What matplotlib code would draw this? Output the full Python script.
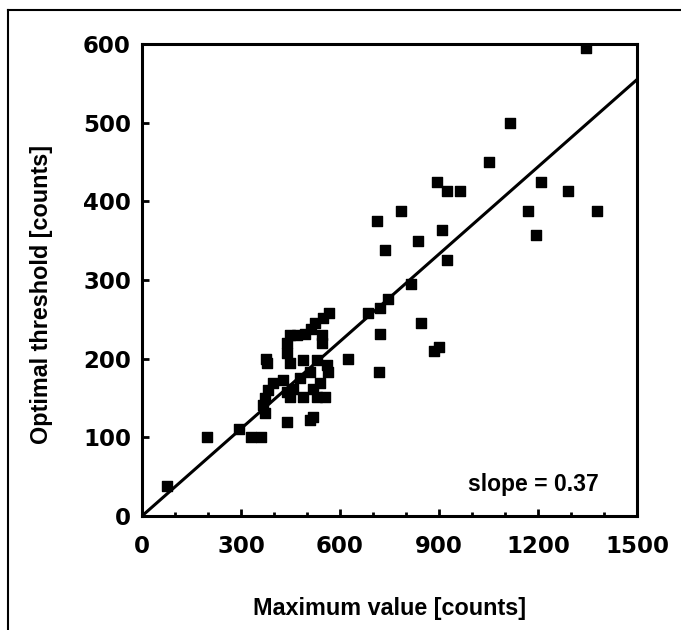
import matplotlib.pyplot as plt
import numpy as np
from matplotlib import font_manager
from matplotlib.lines import Line2D

# pick the regular-width Liberation Sans Bold file (avoid the Narrow cut)
bold_file = None
for path in font_manager.findSystemFonts():
    if path.endswith("LiberationSans-Bold.ttf"):
        bold_file = path
        break
if bold_file:
    label_font = font_manager.FontProperties(fname=bold_file, size=16.8)
    slope_font = font_manager.FontProperties(fname=bold_file, size=16.5)
else:
    label_font = font_manager.FontProperties(family="DejaVu Sans", weight="bold", size=15)
    slope_font = font_manager.FontProperties(family="DejaVu Sans", weight="bold", size=14.5)

# maximum value vs optimal threshold
max_value = [
    75, 197, 295, 330, 360, 373, 367, 373, 376, 380, 382, 397,
    440, 518, 509,
    625, 568, 548, 524, 512, 494, 470, 448, 439, 545, 545, 439, 448,
    488, 530, 561, 564, 509, 479, 428, 458, 518, 539, 439, 488, 530,
    555, 448,
    685, 720, 718, 722, 745, 815, 845, 885, 900, 925, 735, 712, 785,
    835, 910, 895, 925, 965, 1050, 1115, 1210, 1290, 1170, 1380, 1195,
    1345,
]
threshold = [
    38, 100, 110, 100, 100, 131, 141, 150, 200, 195, 160, 169,
    120, 126, 122,
    200, 258, 252, 245, 238, 232, 230, 230, 220, 230, 220, 207, 194,
    198, 198, 192, 183, 183, 175, 173, 162, 162, 169, 158, 151, 151,
    151, 151,
    258, 232, 183, 265, 276, 295, 245, 210, 215, 325, 338, 375, 388,
    350, 363, 425, 413, 413, 450, 500, 425, 413, 388, 388, 357,
    595,
]
slope = 0.37

fig = plt.figure(figsize=(6.81, 6.30), dpi=100)
ax = fig.add_axes([0.2085, 0.181, 0.727, 0.749])

ax.scatter(max_value, threshold, marker="s", s=52, color="black", zorder=3)
fit_x = np.array([0, 1500])
ax.plot(fit_x, slope * fit_x, color="black", lw=2.2, zorder=2)

ax.set_xlim(0, 1500)
ax.set_ylim(0, 600)
ax.set_xticks(range(0, 1501, 300))
ax.set_xticks(range(0, 1501, 100), minor=True)
ax.set_yticks(range(0, 601, 100))
ax.tick_params(axis="both", which="major", direction="in", length=5, width=2,
               labelsize=16.5)
ax.tick_params(axis="x", which="major", pad=14)
ax.tick_params(axis="y", which="major", pad=8)
ax.tick_params(axis="x", which="minor", direction="in", length=3, width=2)
for lab in ax.get_xticklabels() + ax.get_yticklabels():
    lab.set_fontweight("bold")
    lab.set_family("DejaVu Sans")
for sp in ax.spines.values():
    sp.set_linewidth(2.2)

ax.set_xlabel("Maximum value [counts]", fontproperties=label_font)
ax.set_ylabel("Optimal threshold [counts]", fontproperties=label_font)
ax.xaxis.set_label_coords(0.5, -0.172)
ax.yaxis.set_label_coords(-0.18, 0.47)
ax.text(1385, 40, "slope = 0.37", ha="right", va="center", fontproperties=slope_font)

# outer frame (left and top edges only)
fig.add_artist(Line2D([8 / 681, 8 / 681], [0, 1 - 10 / 630], color="black", lw=1.5))
fig.add_artist(Line2D([8 / 681, 1], [1 - 10 / 630, 1 - 10 / 630], color="black", lw=1.5))

fig.savefig("out.png", dpi=100)
